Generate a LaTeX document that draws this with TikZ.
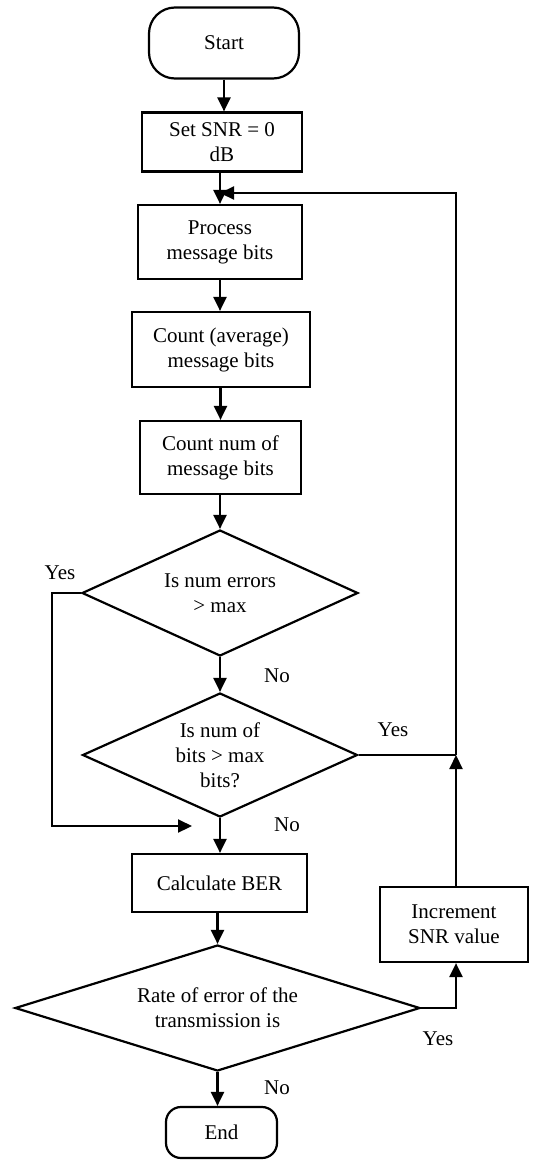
\documentclass[tikz,border=0pt]{standalone}
\usepackage{fontspec}
\setmainfont{Liberation Serif}
\usetikzlibrary{arrows.meta,shapes.geometric}
\begin{document}
\begin{tikzpicture}[x=0.5pt,y=-0.5pt,
  every node/.style={font=\fontsize{10.5pt}{12.5pt}\selectfont},
  box/.style={draw, line width=1.1pt, inner sep=0pt, align=center},
  term/.style={box, rounded corners=#1},
  dia/.style={draw, line width=1.1pt, diamond, inner sep=0pt},
  txt/.style={align=center, inner sep=0pt},
  lbl/.style={inner sep=0pt},
  arr/.style={line width=1.1pt, -{Triangle[length=7pt,width=6.5pt]}},
  ln/.style={line width=1.1pt}]
\useasboundingbox (0,0) rectangle (534,1162);
\node[term=13pt, minimum width=75pt, minimum height=35.5pt] (start) at (224,43) {Start};
\node[box, minimum width=80pt, minimum height=29.5pt] (set) at (222,142) {Set SNR = 0\\dB};
\node[box, minimum width=82pt, minimum height=37pt] (proc) at (220,242) {Process\\message bits};
\node[box, minimum width=89pt, minimum height=37.5pt] (cavg) at (221,349.5) {Count (average)\\message bits};
\node[box, minimum width=80.5pt, minimum height=36.5pt] (cnum) at (220.5,457.5) {Count num of\\message bits};
\node[dia, minimum width=138pt, minimum height=63pt] (d1) at (220,593) {};
\node[txt] at (d1) {Is num errors\\\textgreater{} max};
\node[dia, minimum width=137.5pt, minimum height=62pt] (d2) at (220,755) {};
\node[txt] at (d2) {Is num of\\bits \textgreater{} max\\bits?};
\node[box, minimum width=87.5pt, minimum height=29pt] (calc) at (219.5,883) {Calculate BER};
\node[dia, minimum width=202.5pt, minimum height=63pt] (d3) at (217.5,1008) {};
\node[txt] at (d3) {Rate of error of the\\transmission is};
\node[box, minimum width=74pt, minimum height=37.5pt] (inc) at (454,924.5) {Increment\\SNR value};
\node[term=7.5pt, minimum width=55.5pt, minimum height=25.5pt] (end) at (221.5,1132.5) {End};
% labels
\node[lbl] at (60,573) {Yes};
\node[lbl] at (277,676) {No};
\node[lbl] at (393,730) {Yes};
\node[lbl] at (287,825) {No};
\node[lbl] at (438,1039) {Yes};
\node[lbl] at (277,1088) {No};
% helper coordinates
\coordinate (j1) at (220,193);
\coordinate (jr) at (456,755);
\coordinate (yl) at (52,826);
\coordinate (yt) at (192,826);
% connectors
\draw[arr] (start.south) -- (start.south |- set.north);
\draw[arr] (set.south -| proc.north) -- (proc.north);
\draw[arr] (proc.south) -- (proc.south |- cavg.north);
\draw[arr] (cavg.south -| cnum.north) -- (cnum.north);
\draw[arr] (cnum.south -| d1.north) -- (d1.north);
\draw[arr] (d1.south) -- (d2.north);
\draw[arr] (d2.south) -- (d2.south |- calc.north);
\draw[arr] (calc.south -| d3.north) -- (d3.north);
\draw[arr] (d3.south) -- (d3.south |- end.north);
\draw[ln] (d2.east) -- (jr);
\draw[arr] (inc.north -| jr) -- (jr);
\draw[arr] (jr) |- (j1);
\draw[arr] (d3.east) -| (inc.south -| jr);
\draw[arr] (d1.west) -| (yl) -- (yt);
\end{tikzpicture}
\end{document}
